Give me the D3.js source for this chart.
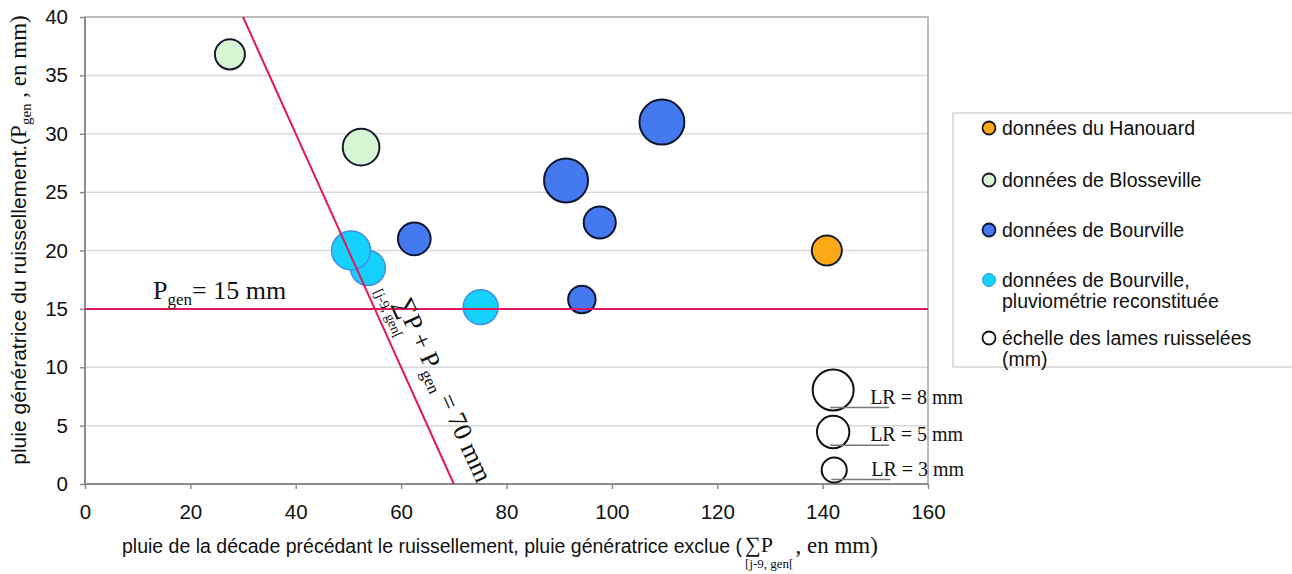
<!doctype html>
<html lang="fr">
<head>
<meta charset="UTF-8">
<title>Pluie génératrice</title>
<script src="https://cdn.jsdelivr.net/npm/d3@7"></script>
<style>
  body { margin: 0; background: #fff; }
  svg { display: block; }
  .sans { font-family: "Liberation Sans", Arial, sans-serif; }
  .serif { font-family: "Liberation Serif", "Times New Roman", serif; }
</style>
</head>
<body>
<div id="chart"></div>
<script>
// --- data ---
var hanouardX = [140.8], hanouardY = [20.0], hanouardLR = [4.3];
var blossevilleX = [27.5, 52.4], blossevilleY = [36.8, 28.85], blossevilleLR = [4.3, 6.4];
var bourvilleX = [62.5, 91.3, 97.7, 94.3, 109.5];
var bourvilleY = [21.0, 26.0, 22.4, 15.8, 31.0];
var bourvilleLR = [5.1, 9.2, 4.9, 3.6, 9.6];
var reconX = [53.7, 50.5, 75.1], reconY = [18.5, 20.0, 15.15], reconLR = [5.8, 7.2, 5.8];
var scaleLR = [8, 5, 3], scaleX = [142, 142, 142.2], scaleY = [8.05, 4.45, 1.2];
var xTicks = [0, 20, 40, 60, 80, 100, 120, 140, 160];
var yTicks = [0, 5, 10, 15, 20, 25, 30, 35, 40];
var pgenLimit = 15, sumLimit = 70;

var legendLabels = [
  ["données du Hanouard"],
  ["données de Blosseville"],
  ["données de Bourville"],
  ["données de Bourville,", "pluviométrie reconstituée"],
  ["échelle des lames ruisselées", "(mm)"]
];

var W = 1292, H = 574;
var L = 85, T = 17, PW = 843, PH = 467;

var svg = d3.select("#chart").append("svg").attr("width", W).attr("height", H);

var x = d3.scaleLinear().domain([0, 160]).range([L, L + PW]);
var y = d3.scaleLinear().domain([0, 40]).range([T + PH, T]);
var r = d3.scaleSqrt().domain([0, 8]).range([0, 20.5]);

// gridlines
svg.append("g").selectAll("line").data(yTicks.filter(function(d){ return d > 0 && d < 40; }))
  .enter().append("line")
  .attr("x1", L).attr("x2", L + PW)
  .attr("y1", function(d){ return y(d); }).attr("y2", function(d){ return y(d); })
  .attr("stroke", "#d9d9d9").attr("stroke-width", 1.5);

// plot frame
svg.append("rect").attr("x", L).attr("y", T).attr("width", PW).attr("height", PH)
  .attr("fill", "none").attr("stroke", "#a6a6a6").attr("stroke-width", 1.5);

// axes
var xAxis = svg.append("g").attr("transform", "translate(0," + (T + PH) + ")")
  .call(d3.axisBottom(x).tickValues(xTicks).tickSize(5).tickPadding(15));
var yAxis = svg.append("g").attr("transform", "translate(" + L + ",0)")
  .call(d3.axisLeft(y).tickValues(yTicks).tickSize(5).tickPadding(12));
[xAxis, yAxis].forEach(function(a){
  a.select(".domain").attr("stroke", "#8c8c8c").attr("stroke-width", 2);
  a.selectAll(".tick line").attr("stroke", "#8c8c8c").attr("stroke-width", 1.5);
  a.selectAll(".tick text").attr("class", "sans").attr("font-size", 20.5).attr("fill", "#111");
});
xAxis.select(".domain").attr("d", "M" + L + ",0H" + (L + PW));
yAxis.select(".domain").attr("d", "M0," + (T + PH) + "V" + T);

// bubbles
function bubbles(xs, ys, lrs, fill, stroke, sw) {
  var pts = xs.map(function(d, i){ return {x: d, y: ys[i], lr: lrs[i]}; });
  svg.append("g").selectAll("circle").data(pts).enter().append("circle")
    .attr("cx", function(d){ return x(d.x); })
    .attr("cy", function(d){ return y(d.y); })
    .attr("r", function(d){ return r(d.lr); })
    .attr("fill", fill).attr("stroke", stroke).attr("stroke-width", sw);
}
bubbles(hanouardX, hanouardY, hanouardLR, "#fba917", "#1a1a2e", 2);
bubbles(blossevilleX, blossevilleY, blossevilleLR, "#d6f5d2", "#1a1a2e", 2);
bubbles(bourvilleX, bourvilleY, bourvilleLR, "#4479f0", "#0d1633", 2);
bubbles(reconX, reconY, reconLR, "#14d2fb", "#3f8ee8", 1.5);

// scale bubbles with leaders and labels
var sc = svg.append("g");
scaleLR.forEach(function(lr, i){
  var cx = x(scaleX[i]), cy = y(scaleY[i]), rr = r(lr);
  sc.append("circle").attr("cx", cx).attr("cy", cy).attr("r", rr)
    .attr("fill", "#fff").attr("stroke", "#111").attr("stroke-width", 2);
  var ly = cy + rr - 3;
  sc.append("line").attr("x1", cx - 3).attr("x2", cx + 56).attr("y1", ly).attr("y2", ly)
    .attr("stroke", "#777").attr("stroke-width", 1.5);
  sc.append("text").attr("class", "serif").attr("font-size", 20).attr("fill", "#111")
    .attr("x", cx + 37).attr("y", ly - 4).text("LR = " + lr + " mm");
});

// threshold lines
var pink = "#e0195f";
svg.append("line").attr("x1", x(0)).attr("x2", x(160))
  .attr("y1", y(pgenLimit)).attr("y2", y(pgenLimit))
  .attr("stroke", pink).attr("stroke-width", 2);
svg.append("line").attr("x1", x(sumLimit - 40)).attr("y1", y(40))
  .attr("x2", x(sumLimit)).attr("y2", y(0))
  .attr("stroke", pink).attr("stroke-width", 2);

// P_gen = 15 mm label
var t1 = svg.append("text").attr("class", "serif").attr("font-size", 26).attr("fill", "#111")
  .attr("x", 153).attr("y", y(pgenLimit) - 10);
t1.append("tspan").text("P");
t1.append("tspan").attr("font-size", 17).attr("dy", 6).text("gen");
t1.append("tspan").attr("dy", -6).text("= 15 mm");

// rotated label along the oblique line
var ang = Math.atan2(y(0) - y(40), x(sumLimit) - x(sumLimit - 40));
var py0 = 14.8, px0 = sumLimit - py0, off = 21;
var ox = x(px0) + off * Math.sin(ang), oy = y(py0) - off * Math.cos(ang);
var g2 = svg.append("g").attr("transform", "translate(" + ox + "," + oy + ") rotate(" + (ang * 180 / Math.PI) + ")");
var t2 = g2.append("text").attr("class", "serif").attr("font-size", 26).attr("fill", "#111");
t2.append("tspan").text("\u2211P + P");
t2.append("tspan").attr("font-size", 17).attr("dy", 6).text("gen");
t2.append("tspan").attr("dy", -6).text(" = 70 mm");
g2.append("text").attr("class", "serif").attr("font-size", 14).attr("fill", "#111")
  .attr("x", -19).attr("y", 15).text("[j-9, gen[");

// x axis title
var xt = svg.append("g").attr("fill", "#111");
var x0 = 122, by = 553;
var xa = xt.append("text").attr("class", "sans").attr("font-size", 19.5)
  .attr("x", x0).attr("y", by)
  .text("pluie de la décade précédant le ruissellement, pluie génératrice exclue (");
var xw = xa.node().getComputedTextLength();
var xb = xt.append("text").attr("class", "serif").attr("font-size", 22)
  .attr("x", x0 + xw + 3).attr("y", by - 1).text("\u2211P");
var xs = xt.append("text").attr("class", "serif").attr("font-size", 13)
  .attr("x", x0 + xw + 3).attr("y", by + 15).text("[j-9, gen[");
var sw = Math.max(xb.node().getComputedTextLength(), xs.node().getComputedTextLength());
xt.append("text").attr("class", "serif").attr("font-size", 23)
  .attr("x", x0 + xw + 3 + sw + 2).attr("y", by).text(", en mm)");

// y axis title
var yt = svg.append("text").attr("fill", "#111").attr("text-anchor", "middle")
  .attr("transform", "translate(26,240) rotate(-90)");
yt.append("tspan").attr("class", "sans").attr("font-size", 21).text("pluie génératrice du ruissellement.(");
yt.append("tspan").attr("class", "serif").attr("font-size", 23).text("P");
yt.append("tspan").attr("class", "serif").attr("font-size", 15).attr("dy", 5).text("gen");
yt.append("tspan").attr("class", "serif").attr("font-size", 23).attr("dy", -5).text(" , en mm)");

// legend
var lg = svg.append("g");
lg.append("rect").attr("x", 953).attr("y", 113).attr("width", 345).attr("height", 254)
  .attr("fill", "#fff").attr("stroke", "#d4d4d4").attr("stroke-width", 1.5);
var legFill = ["#fba917", "#d6f5d2", "#4479f0", "#14d2fb", "#fff"];
var legStroke = ["#1a1a2e", "#1a1a2e", "#0d1633", "#3f8ee8", "#111"];
var legY = [128, 180, 230, 280, 338];
legendLabels.forEach(function(lines, i){
  lg.append("circle").attr("cx", 989).attr("cy", legY[i]).attr("r", 6.5)
    .attr("fill", legFill[i]).attr("stroke", legStroke[i]).attr("stroke-width", i === 3 ? 1 : 1.8);
  lines.forEach(function(s, j){
    lg.append("text").attr("class", "sans").attr("font-size", 19.5).attr("fill", "#111")
      .attr("x", 1002).attr("y", legY[i] + 7 + j * 21).text(s);
  });
});
</script>
</body>
</html>
